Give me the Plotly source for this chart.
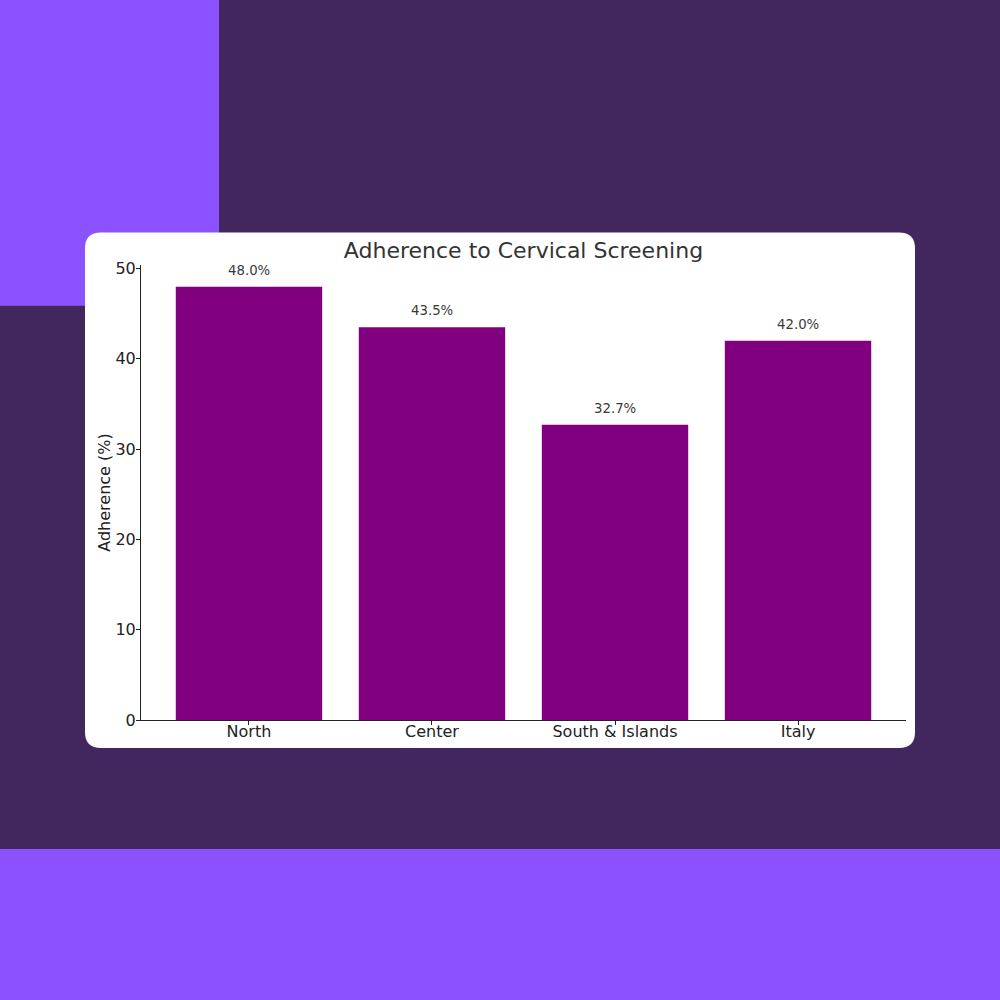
import plotly.graph_objects as go

categories = ["North", "Center", "South & Islands", "Italy"]
adherence = [48.0, 43.5, 32.7, 42.0]
labels = [f"{v:.1f}%" for v in adherence]

W, H = 1000, 1000
L, R, T, B = 141, 906, 265.4, 720  # plot area in pixels
pw, ph = R - L, B - T


def px(x):
    return (x - L) / pw


def py(y):
    return (B - y) / ph


dark = "#42275E"
light = "#8C52FF"

fig = go.Figure()
fig.add_trace(go.Bar(x=categories, y=adherence, marker=dict(color="#800080", line=dict(width=0)),
                     width=0.8, hoverinfo="skip"))

for c, v, t in zip(categories, adherence, labels):
    fig.add_annotation(x=c, y=v, text=t, showarrow=False, yanchor="bottom", yshift=7,
                       font=dict(size=13.3, color="#3a3a3a", family="DejaVu Sans"))

shapes = []
# light purple blocks
shapes.append(dict(type="rect", xref="paper", yref="paper", x0=px(0), x1=px(219), y0=py(0), y1=py(306),
                   fillcolor=light, line=dict(width=0), layer="below"))
shapes.append(dict(type="rect", xref="paper", yref="paper", x0=px(0), x1=px(1000), y0=py(849), y1=py(1000),
                   fillcolor=light, line=dict(width=0), layer="below"))
# white rounded card
x0, x1, y0, y1, r = 85, 915, 233, 748, 16
pts = [
    f"M {px(x0 + r)},{py(y0)}",
    f"L {px(x1 - r)},{py(y0)}",
    f"Q {px(x1)},{py(y0)} {px(x1)},{py(y0 + r)}",
    f"L {px(x1)},{py(y1 - r)}",
    f"Q {px(x1)},{py(y1)} {px(x1 - r)},{py(y1)}",
    f"L {px(x0 + r)},{py(y1)}",
    f"Q {px(x0)},{py(y1)} {px(x0)},{py(y1 - r)}",
    f"L {px(x0)},{py(y0 + r)}",
    f"Q {px(x0)},{py(y0)} {px(x0 + r)},{py(y0)}",
    "Z",
]
shapes.append(dict(type="path", xref="paper", yref="paper", path=" ".join(pts),
                   fillcolor="white", line=dict(width=0), layer="below"))

fig.update_layout(
    width=W, height=H,
    margin=dict(l=L, r=W - R, t=T, b=H - B, pad=0),
    paper_bgcolor=dark, plot_bgcolor="rgba(0,0,0,0)",
    shapes=shapes,
    showlegend=False,
    font=dict(family="DejaVu Sans", color="#222222"),
    title=dict(text="Adherence to Cervical Screening", xref="paper", x=0.5, xanchor="center",
               y=1 - 250 / H, yanchor="middle",
               font=dict(size=22, color="#333333", family="DejaVu Sans")),
    xaxis=dict(range=[-0.59, 3.59], showline=True, linecolor="#222222", linewidth=1,
               ticks="outside", ticklen=4, tickcolor="#222222", tickfont=dict(size=16, color="#222222"),
               ticklabelstandoff=-7,
               showgrid=False, zeroline=False, fixedrange=True),
    yaxis=dict(range=[0, 50.4], showline=True, linecolor="#222222", linewidth=1,
               ticks="outside", ticklen=4, tickcolor="#222222", tickvals=[0, 10, 20, 30, 40, 50],
               tickfont=dict(size=16, color="#222222"), ticklabelstandoff=-3,
               showgrid=False, zeroline=False,
               title=dict(text="Adherence (%)", font=dict(size=16, color="#222222"), standoff=0),
               fixedrange=True),
)

fig.write_html("out.html", config={"displayModeBar": False},
               post_script="document.body.style.margin='0';document.body.style.overflow='hidden';")
